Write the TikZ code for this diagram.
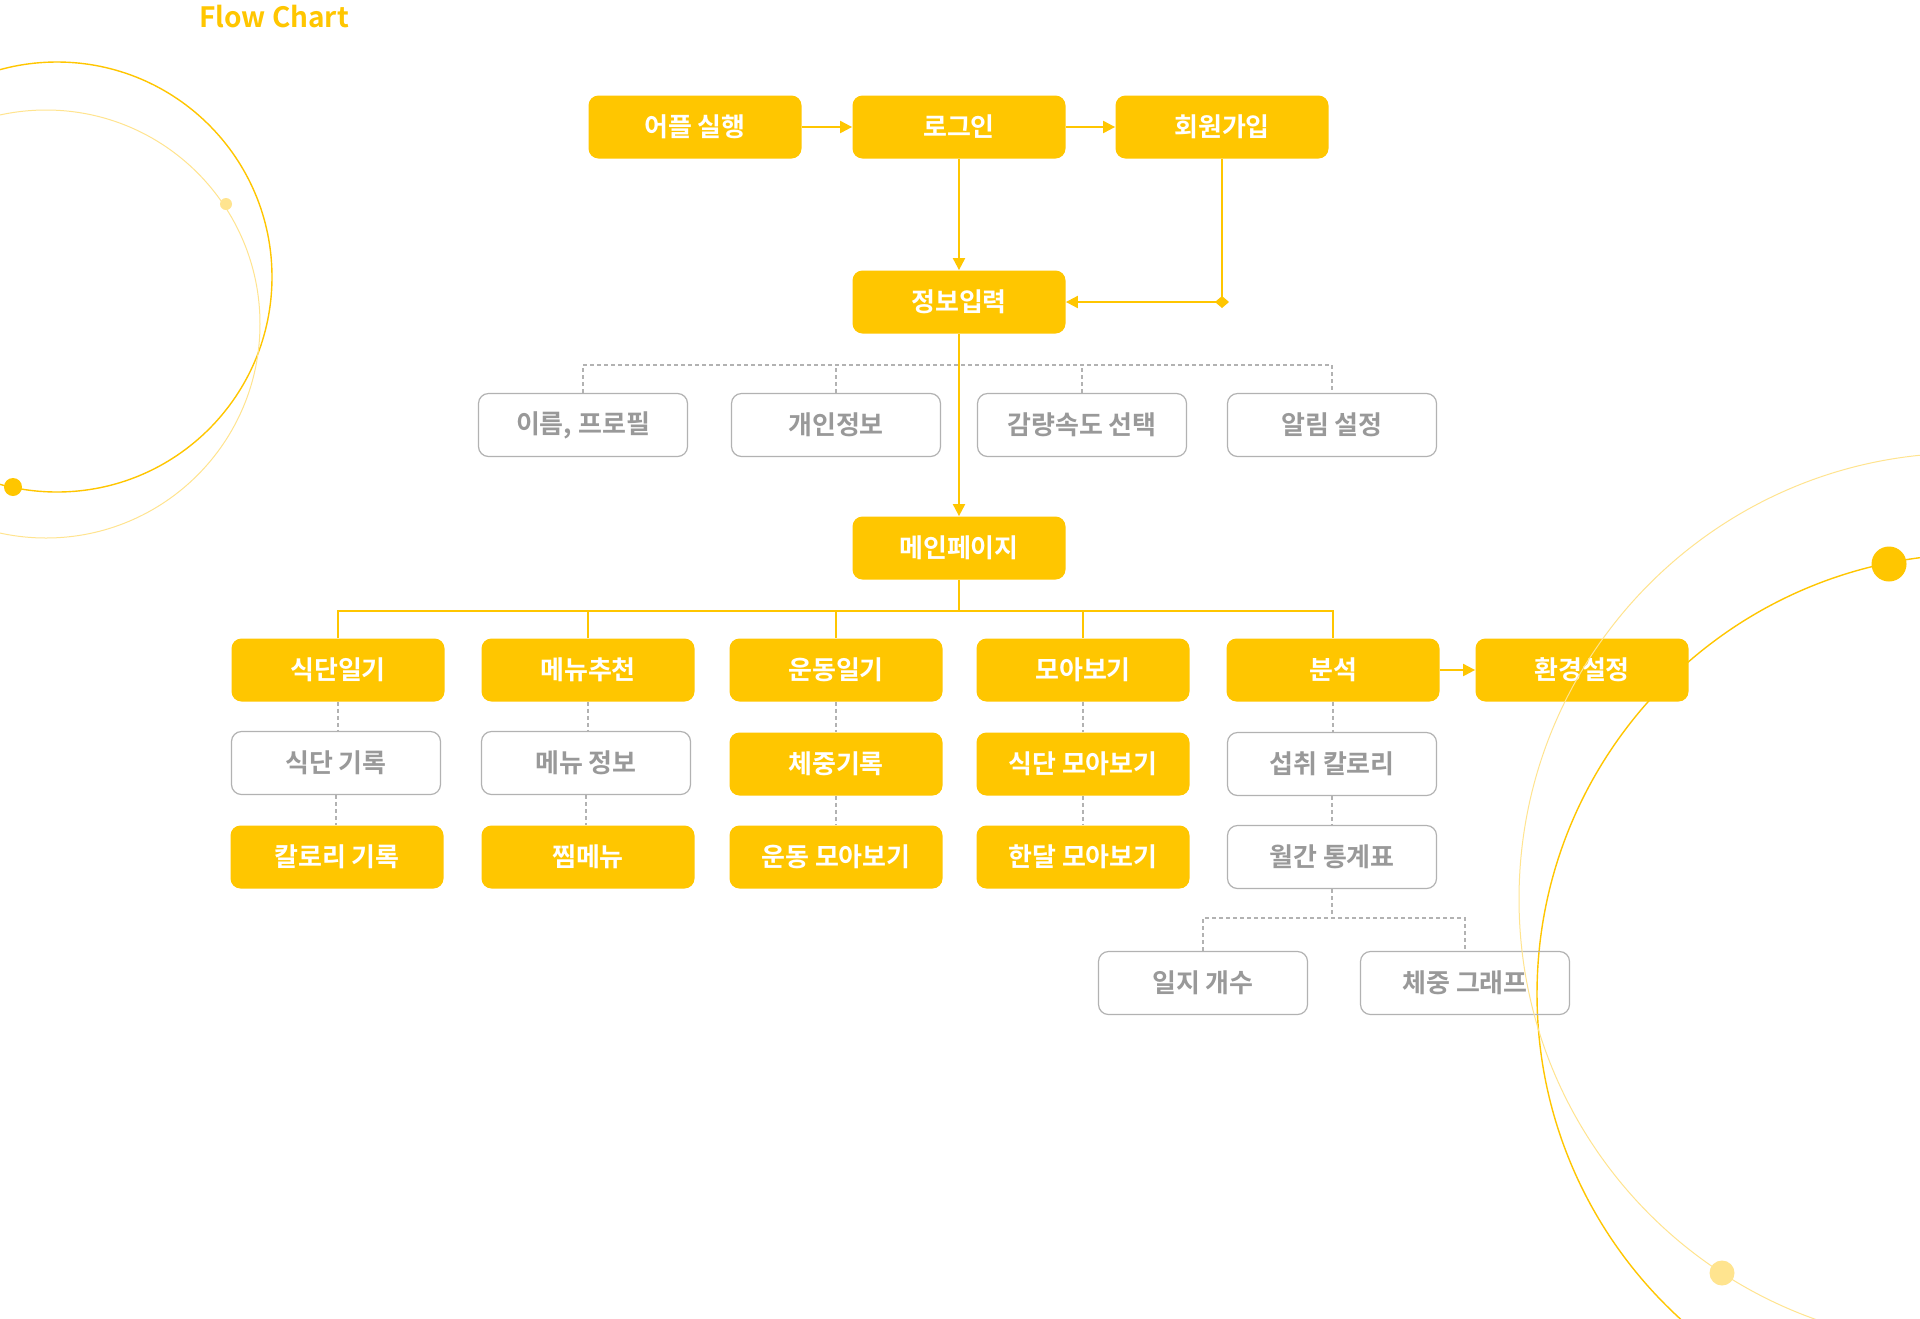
\documentclass[tikz,border=0pt]{standalone}
\usepackage{fontspec}
\setmainfont{Noto Sans CJK KR}[BoldFont={Noto Sans CJK KR Bold}]
\usetikzlibrary{arrows.meta,calc}
\definecolor{yel}{HTML}{FFC600}
\definecolor{lightyel}{HTML}{FFE48F}
\definecolor{boxgray}{HTML}{B2B2B2}
\definecolor{txtgray}{HTML}{999999}
\tikzset{>={Triangle[length=6pt,width=6pt]}}
\tikzset{
  ybox/.style={fill=yel,rounded corners=5pt,minimum width=106.5pt,minimum height=31.5pt,
    inner sep=0pt,text=white,font=\bfseries\fontsize{13}{15}\selectfont},
  gbox/.style={draw=boxgray,line width=0.6pt,rounded corners=5pt,minimum width=104.5pt,
    minimum height=31.5pt,inner sep=0pt,text=txtgray,font=\bfseries\fontsize{13}{15}\selectfont},
  yline/.style={yel,line width=1pt},
  gline/.style={boxgray,line width=0.6pt,dash pattern=on 2pt off 1.5pt},
  titletext/.style={text=yel,font=\bfseries\fontsize{14}{16}\selectfont,inner sep=0pt},
}

\begin{document}
\begin{tikzpicture}[x=0.5pt,y=-0.5pt]
            \useasboundingbox (0,0) rectangle (1920,1318);
            \fill[white] (0,0) rectangle (1920,1318);
            \begin{scope}
              \clip (0,0) rectangle (1920,1318);
              \draw[yel,line width=0.7pt] (57,277) circle (215);
              \draw[lightyel,line width=0.5pt] (46,324) circle (214);
              \fill[yel] (13,487) circle (9);
              \fill[lightyel] (226,204) circle (6);
              \draw[yel,line width=0.7pt] (1977,994) circle (440);
              \fill[yel] (1889,564) circle (17.5);
            \end{scope}
            \node[titletext] (title) at (274,17) {Flow Chart};
            \node[ybox] (app) at (695,127) {어플 실행};
            \node[ybox] (login) at (959,127) {로그인};
            \node[ybox] (signup) at (1222,127) {회원가입};
            \node[ybox] (info) at (959,302) {정보입력};
            \node[gbox] (name) at (583,425) {이름, 프로필};
            \node[gbox] (personal) at (836,425) {개인정보};
            \node[gbox] (speed) at (1082,425) {감량속도 선택};
            \node[gbox] (alarm) at (1332,425) {알림 설정};
            \node[ybox] (main) at (959,548) {메인페이지};
            \node[ybox] (diary) at (338,670) {식단일기};
            \node[ybox] (menurec) at (588,670) {메뉴추천};
            \node[ybox] (workout) at (836,670) {운동일기};
            \node[ybox] (collect) at (1083,670) {모아보기};
            \node[ybox] (analysis) at (1333,670) {분석};
            \node[ybox] (settings) at (1582,670) {환경설정};
            \node[gbox] (dietlog) at (336,763) {식단 기록};
            \node[gbox] (menuinfo) at (586,763) {메뉴 정보};
            \node[ybox] (weightlog) at (836,764) {체중기록};
            \node[ybox] (dietview) at (1083,764) {식단 모아보기};
            \node[gbox] (intake) at (1332,764) {섭취 칼로리};
            \node[ybox] (calorielog) at (337,857) {칼로리 기록};
            \node[ybox] (favmenu) at (588,857) {찜메뉴};
            \node[ybox] (workoutview) at (836,857) {운동 모아보기};
            \node[ybox] (monthview) at (1083,857) {한달 모아보기};
            \node[gbox] (monthstat) at (1332,857) {월간 통계표};
            \node[gbox] (logcount) at (1203,983) {일지 개수};
            \node[gbox] (weightgraph) at (1465,983) {체중 그래프};
            \coordinate (ibus) at (959,365);
            \coordinate (mbus) at (959,611);
            \coordinate (sbus) at (1332,918);
            \coordinate (corner) at (signup.south |- info.east);
            \draw[yline,->] (app.east) -- (login.west);
            \draw[yline,->] (login.east) -- (signup.west);
            \draw[yline,->] (login.south) -- (info.north);
            \draw[yline] (signup.south) -- (corner);
            \draw[yline,{Diamond[length=7pt,width=6pt]}->,shorten <=-3.5pt] (corner) -- (info.east);
            \draw[gline] (name.north) -- (name.north |- ibus) -- (alarm.north |- ibus) -- (alarm.north);
            \foreach \n in {personal,speed}
              \draw[gline] (\n.north) -- (\n.north |- ibus);
            \draw[yline,->] (info.south) -- (main.north);
            \draw[yline] (main.south) -- (mbus);
            \draw[yline] (diary.north) -- (diary.north |- mbus) -- (analysis.north |- mbus) -- (analysis.north);
            \foreach \n in {menurec,workout,collect}
              \draw[yline] (\n.north) -- (\n.north |- mbus);
            \draw[yline,->] (analysis.east) -- (settings.west);
            \foreach \a/\b in {diary/dietlog,dietlog/calorielog,menurec/menuinfo,menuinfo/favmenu,
                workout/weightlog,weightlog/workoutview,collect/dietview,dietview/monthview,
                analysis/intake,intake/monthstat}
              \draw[gline] (\a.south) -- (\a.south |- \b.north);
            \draw[gline] (monthstat.south) -- (sbus);
            \draw[gline] (logcount.north) -- (logcount.north |- sbus) -- (weightgraph.north |- sbus) -- (weightgraph.north);
            \begin{scope}
              \clip (0,0) rectangle (1920,1318);
              \draw[lightyel,line width=0.5pt] (1965,899) circle (446);
              \fill[lightyel] (1722,1273) circle (12.5);
            \end{scope}
        \end{tikzpicture}
\end{document}
